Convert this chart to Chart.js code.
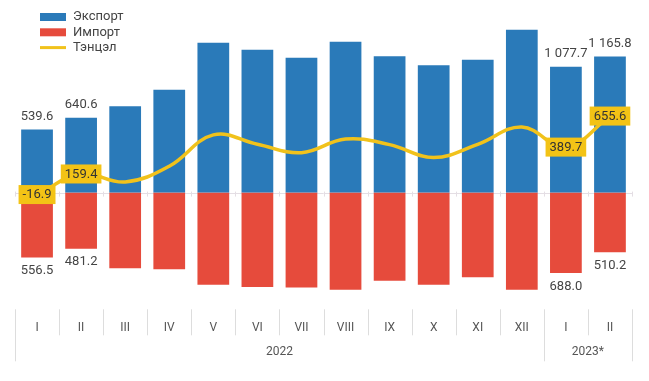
<!DOCTYPE html>
<html>
<head>
<meta charset="utf-8">
<script src="https://cdn.jsdelivr.net/npm/chart.js@4/dist/chart.umd.min.js"></script>
<style>
html,body{margin:0;padding:0;background:#fff;}
#wrap{position:relative;width:649px;height:381px;}
</style>
</head>
<body>
<div id="wrap"><canvas id="c" width="649" height="381"></canvas></div>
<script>
// ---- data ----
const monthLabels = ['I','II','III','IV','V','VI','VII','VIII','IX','X','XI','XII','I','II'];
const yearLabels = ['2022','2023*'];
const yearSpans = [12, 2];
const exportValues = [539.6, 640.6, 739, 882, 1284, 1224, 1156, 1292, 1167, 1090, 1138, 1395, 1077.7, 1165.8];
const importValues = [556.5, 481.2, 648, 656, 790, 810, 814, 833, 756, 790, 725, 833, 688.0, 510.2];
const balanceValues = [-16.9, 159.4, 91, 226, 494, 414, 342, 459, 411, 300, 413, 562, 389.7, 655.6];
const labeledIndices = [0, 1, 12, 13];
const seriesNames = ['Экспорт', 'Импорт', 'Тэнцэл'];

const colExport = '#2A7AB9';
const colImport = '#E64B3C';
const colBalance = '#F1C21B';
const FONT = 'Roboto, "Noto Sans", sans-serif';

function fmt(v){
  const s = Math.abs(v).toFixed(1);
  let [ip, dp] = s.split('.');
  ip = ip.replace(/\B(?=(\d{3})+(?!\d))/g, ' ');
  return (v < 0 ? '-' : '') + ip + '.' + dp;
}

const decorPlugin = {
  id: 'decor',
  beforeDatasetsDraw(chart){
    const ctx = chart.ctx, x = chart.scales.x, y = chart.scales.y;
    const y0 = y.getPixelForValue(0);
    const a = chart.chartArea;
    ctx.save();
    ctx.strokeStyle = '#E4DEE4';
    ctx.lineWidth = 1;
    ctx.beginPath();
    ctx.moveTo(a.left, Math.round(y0)+0.5);
    ctx.lineTo(a.right, Math.round(y0)+0.5);
    const step = x.getPixelForValue(1) - x.getPixelForValue(0);
    for(let i=0;i<=monthLabels.length;i++){
      const px = Math.round(x.getPixelForValue(i) - step/2) + 0.5;
      ctx.moveTo(px, y0-1);
      ctx.lineTo(px, y0+4);
    }
    ctx.stroke();
    ctx.restore();
  },
  afterDraw(chart){
    const ctx = chart.ctx, x = chart.scales.x;
    const a = chart.chartArea;
    const step = x.getPixelForValue(1) - x.getPixelForValue(0);
    const top = a.bottom;
    ctx.save();
    ctx.strokeStyle = '#DDDDDD';
    ctx.lineWidth = 1;
    const bounds = [0];
    let acc = 0;
    yearSpans.forEach(s => { acc += s; bounds.push(acc); });
    ctx.beginPath();
    for(let i=0;i<=monthLabels.length;i++){
      const px = Math.round(x.getPixelForValue(i) - step/2) + 0.5;
      const isYear = bounds.includes(i);
      ctx.moveTo(px, top);
      ctx.lineTo(px, isYear ? top + 52 : top + 26);
    }
    ctx.stroke();
    ctx.fillStyle = '#555';
    ctx.font = '12px ' + FONT;
    ctx.textAlign = 'center';
    ctx.textBaseline = 'middle';
    for(let k=0;k<yearLabels.length;k++){
      const l = x.getPixelForValue(bounds[k]) - step/2;
      const r = x.getPixelForValue(bounds[k+1]) - step/2;
      ctx.fillText(yearLabels[k], (l+r)/2, a.bottom + 43);
    }
    // legend
    const lx = 40, ly = 17, gap = 15.3;
    ctx.textAlign = 'left';
    ctx.font = '13px ' + FONT;
    const cols = [colExport, colImport, colBalance];
    for(let i=0;i<3;i++){
      const cy = ly + i*gap;
      if(i<2){
        ctx.fillStyle = cols[i];
        ctx.fillRect(lx, cy-4, 26, 8);
      } else {
        ctx.strokeStyle = cols[i];
        ctx.lineWidth = 3;
        ctx.beginPath();
        ctx.moveTo(lx, cy); ctx.lineTo(lx+26, cy);
        ctx.stroke();
      }
      ctx.fillStyle = '#444';
      ctx.fillText(seriesNames[i], lx + 33, cy);
    }
    ctx.restore();
  },
  afterDatasetsDraw(chart){
    const ctx = chart.ctx;
    const mExp = chart.getDatasetMeta(1).data;
    const mImp = chart.getDatasetMeta(2).data;
    const mBal = chart.getDatasetMeta(0).data;
    ctx.save();
    ctx.font = '13px ' + FONT;
    ctx.textAlign = 'center';
    ctx.textBaseline = 'middle';
    labeledIndices.forEach(i => {
      ctx.fillStyle = '#444';
      ctx.fillText(fmt(exportValues[i]), mExp[i].x, mExp[i].y - 13);
      ctx.fillText(fmt(importValues[i]), mImp[i].x, mImp[i].y + 13.5);
      const t = fmt(balanceValues[i]);
      const w = ctx.measureText(t).width + 8;
      const h = 19;
      const bx = mBal[i].x, by = mBal[i].y;
      ctx.fillStyle = '#F3C316';
      ctx.fillRect(bx - w/2, by - h/2, w, h);
      ctx.fillStyle = '#333';
      ctx.fillText(t, bx, by + 0.5);
    });
    ctx.restore();
  }
};

new Chart(document.getElementById('c'), {
  data: {
    labels: monthLabels,
    datasets: [
      {
        type: 'line',
        label: seriesNames[2],
        data: balanceValues,
        borderColor: colBalance,
        borderWidth: 3.5,
        pointRadius: 0,
        tension: 0.4,
        fill: false,
        order: 0
      },
      {
        type: 'bar',
        label: seriesNames[0],
        data: exportValues,
        backgroundColor: colExport,
        categoryPercentage: 1,
        barPercentage: 0.72,
        order: 1
      },
      {
        type: 'bar',
        label: seriesNames[1],
        data: importValues.map(v => -v),
        backgroundColor: colImport,
        categoryPercentage: 1,
        barPercentage: 0.72,
        order: 1
      }
    ]
  },
  options: {
    responsive: false,
    animation: false,
    devicePixelRatio: 1,
    layout: { padding: { left: 15, right: 17, top: 0, bottom: 40.7 } },
    plugins: { legend: { display: false }, tooltip: { enabled: false } },
    scales: {
      x: {
        stacked: true,
        grid: { display: false, drawTicks: false },
        border: { display: false },
        ticks: { color: '#555', font: { size: 12, family: FONT }, padding: 11.5, autoSkip: false, maxRotation: 0 },
        afterFit(scale){ scale.height = 31; }
      },
      y: {
        stacked: false,
        display: false,
        min: -1000,
        max: 1650
      }
    }
  },
  plugins: [decorPlugin]
});
</script>
</body>
</html>
